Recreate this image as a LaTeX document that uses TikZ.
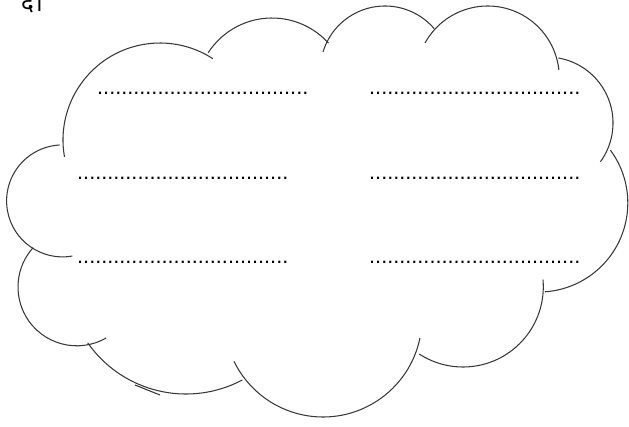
\documentclass[tikz,border=0pt]{standalone}
\usepackage{fontspec}
\setmainfont{Liberation Sans}
\newfontfamily\devafont[Script=Devanagari]{Noto Sans}

\begin{document}
\begin{tikzpicture}[
    x=1pt, y=1pt,
    cloud/.style={draw=black!78, line width=1.05pt},
    dots/.style={anchor=base west, inner sep=0pt, font=\fontsize{21.7}{24}\selectfont},
]
    \useasboundingbox[fill=white] (0,0) rectangle (629,-426);

    %==================== label, cut at the top ====================
    \node[anchor=base west, inner sep=0pt, font=\devafont\fontsize{24}{26}\selectfont]
        (tag) at (21,-11) {द।};

    %==================== cloud outline, bump by bump ====================
    % top
    \draw[cloud] (160,-140)   ++(190:97)  arc[start angle=190, end angle=57,  radius=97];
    \draw[cloud] (272,-94)    ++(147:76)  arc[start angle=147, end angle=42,  radius=76];
    \draw[cloud] (385,-70.8)  ++(163:64.8) arc[start angle=163, end angle=40.6, radius=64.8];
    \draw[cloud] (487.7,-77.6) ++(151:71.6) arc[start angle=151, end angle=6, radius=71.6];
    % right
    \draw[cloud] (547,-123)   ++(80:66)   arc[start angle=80,  end angle=-36, radius=66];
    \draw[cloud] (538.8,-203) ++(36.5:89) arc[start angle=36.5, end angle=-86, radius=89];
    % bottom
    \draw[cloud] (463,-286.7) ++(5:80.3)  arc[start angle=5,   end angle=-123, radius=80.3];
    \draw[cloud] (323,-318)   ++(-11.6:99) arc[start angle=-11.6, end angle=-154, radius=99];
    \draw[cloud] (186,-274)   ++(-62:120) arc[start angle=-62, end angle=-145, radius=120];
    \draw[cloud] (135,-385) -- (160,-395);
    % left
    \draw[cloud] (76.8,-287)  ++(300:58.8) arc[start angle=300, end angle=138, radius=58.8];
    \draw[cloud] (62.6,-200.9) ++(280:56) arc[start angle=280, end angle=93,  radius=56];

    %==================== answer lines ====================
    \node[dots] (l1) at (97,-94.1)  {...................................};
    \node[dots] (r1) at (369,-94.1) {...................................};
    \node[dots] (l2) at (77,-179.1) {...................................};
    \node[dots] (r2) at (369,-179.1) {...................................};
    \node[dots] (l3) at (77,-263.1) {...................................};
    \node[dots] (r3) at (369,-263.1) {...................................};

\end{tikzpicture}
\end{document}
